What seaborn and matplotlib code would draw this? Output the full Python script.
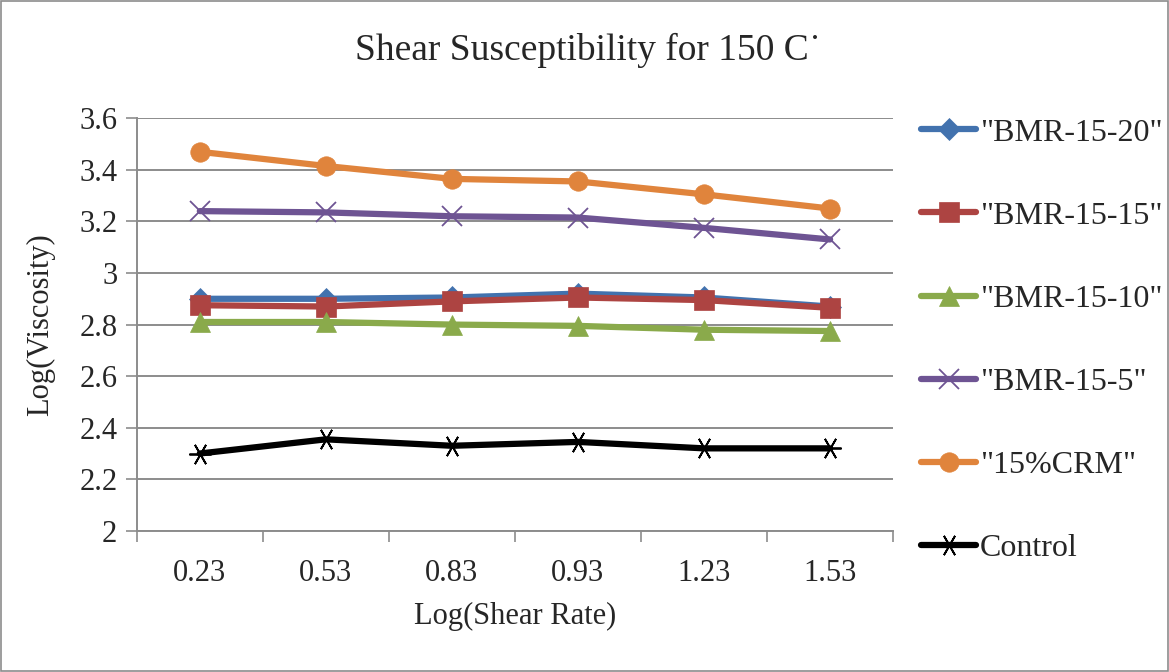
import pandas as pd
import seaborn as sns
import matplotlib.pyplot as plt
from matplotlib.patches import Rectangle

sns.set_theme(style='white')
plt.rcParams['font.family'] = ['Liberation Serif', 'DejaVu Serif']

shear_rates = ['0.23', '0.53', '0.83', '0.93', '1.23', '1.53']
series_names = ['"BMR-15-20"', '"BMR-15-15"', '"BMR-15-10"', '"BMR-15-5"',
                '"15%CRM"', 'Control']
bmr_15_20 = [2.90, 2.90, 2.905, 2.92, 2.905, 2.87]
bmr_15_15 = [2.875, 2.87, 2.89, 2.905, 2.895, 2.865]
bmr_15_10 = [2.81, 2.81, 2.80, 2.795, 2.78, 2.775]
bmr_15_5 = [3.24, 3.235, 3.22, 3.215, 3.175, 3.13]
crm_15 = [3.47, 3.415, 3.365, 3.355, 3.305, 3.25]
control = [2.30, 2.355, 2.33, 2.345, 2.32, 2.32]

colors = ['#4272AE', '#AD4442', '#8AAA4B', '#6E5493', '#E0843C', '#000000']
markers = ['D', 's', '^', 'x', 'o', (6, 2, 30)]
msizes = [11, 14, 15, 15, 14, 16]


def main():
    fig = plt.figure(figsize=(11.69, 6.72), dpi=100)
    ax = fig.add_axes([0.117, 0.210, 0.647, 0.614])
    fig.patches.append(Rectangle((0.001, 0.001), 0.998, 0.997,
                                 transform=fig.transFigure, fill=False,
                                 edgecolor='#8c8c8c', lw=1.2))

    values = [bmr_15_20, bmr_15_15, bmr_15_10, bmr_15_5, crm_15, control]
    xpos = list(range(len(shear_rates)))
    for name, vals, c, m, ms in zip(series_names, values, colors, markers,
                                    msizes):
        df = pd.DataFrame({'x': xpos, 'y': vals})
        thin = m in ('x', (6, 2, 30))
        sns.lineplot(x='x', y='y', data=df, ax=ax, color=c, marker=m,
                     markersize=ms, linewidth=4.5, label=name,
                     markeredgecolor=c, markeredgewidth=1.3 if thin else 0.5)

    ax.set_xlim(-0.5, 5.5)
    ax.set_ylim(2, 3.6)
    ax.set_yticks([2, 2.2, 2.4, 2.6, 2.8, 3, 3.2, 3.4, 3.6])
    ax.set_yticklabels(['2', '2.2', '2.4', '2.6', '2.8', '3', '3.2', '3.4',
                        '3.6'])
    ax.set_xticks(xpos)
    ax.set_xticklabels(shear_rates)
    ax.set_xticks([i - 0.5 for i in range(7)], minor=True)
    ax.tick_params(axis='x', which='major', length=0, labelsize=22, pad=20)
    ax.tick_params(axis='x', which='minor', length=8, color='#8c8c8c',
                   width=1.2, direction='out', bottom=True)
    ax.tick_params(axis='y', length=8, color='#8c8c8c', width=1.2,
                   direction='out', left=True, labelsize=22, pad=6)
    ax.grid(axis='y', color='#8c8c8c', lw=1.4)
    ax.set_axisbelow(True)
    for s in ['top', 'right']:
        ax.spines[s].set_visible(False)
    for s in ['left', 'bottom']:
        ax.spines[s].set_color('#8c8c8c')
        ax.spines[s].set_linewidth(1.4)

    ax.set_xlabel('Log(Shear Rate)', fontsize=22, labelpad=10)
    ax.set_ylabel('Log(Viscosity)', fontsize=22, labelpad=17)
    fig.text(0.503, 0.925, 'Shear Susceptibility for 150 C\u02d9',
             ha='center', va='center', fontsize=27)

    ax.legend(loc='upper left', bbox_to_anchor=(0.788, 0.824),
              bbox_transform=fig.transFigure, frameon=False,
              fontsize=23, labelspacing=1.68, handlelength=1.72,
              handletextpad=0.12, borderaxespad=0, borderpad=0)

    fig.savefig('out.png', dpi=100)
    plt.close()


if __name__ == '__main__':
    main()
